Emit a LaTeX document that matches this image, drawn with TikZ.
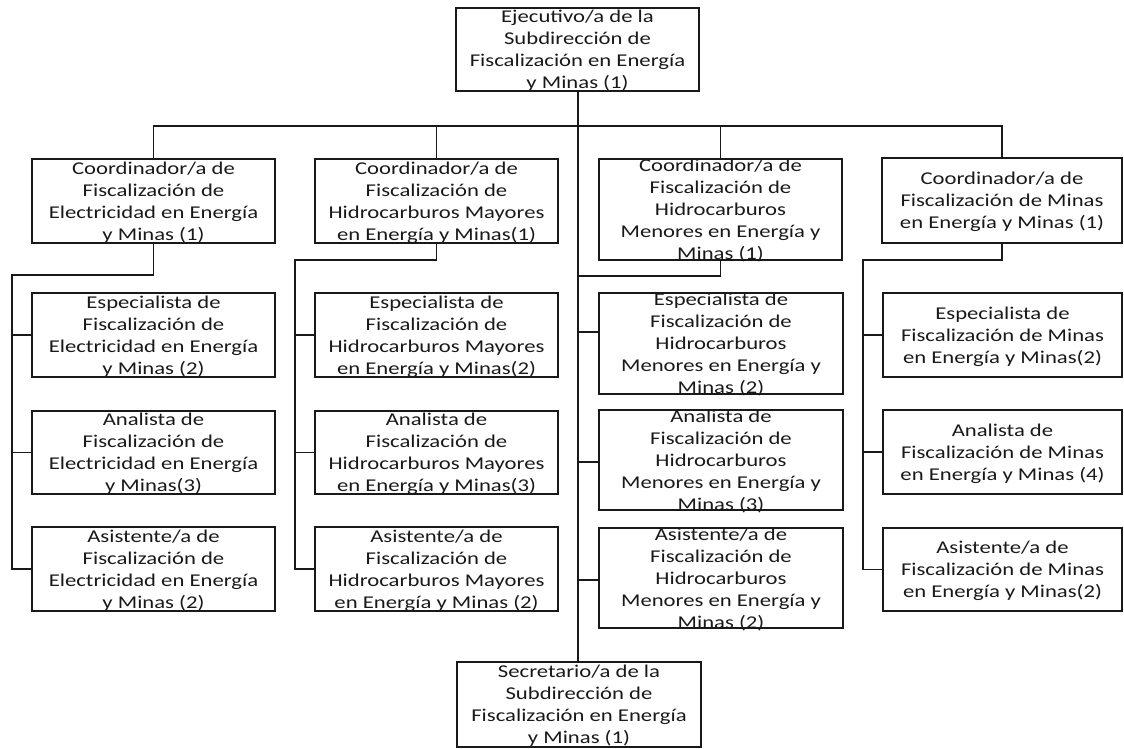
\documentclass[tikz,border=0pt]{standalone}
\usepackage{fontspec}
\newfontfamily\calib[FakeStretch=1.26]{Carlito}
\newcommand\boxfont{\calib\fontsize{18}{22}\selectfont}
\begin{document}
\begin{tikzpicture}[x=1pt,y=-1pt,
  boxst/.style={draw=black!90, line width=1.4pt, rectangle, inner sep=0pt, outer sep=0pt},
  txtst/.style={align=center, inner sep=0pt, font=\boxfont, text=black!90},
  conn/.style={draw=black!90, line width=1.4pt, line cap=rect}]
\useasboundingbox (0,0) rectangle (1124,749);
\newcommand\orgbox[6]{%
  \node[boxst, minimum width={#4-#2}, minimum height={#5-#3}] (#1) at ({(#2+#4)/2},{(#3+#5)/2}) {};
  \node[txtst] (#1t) at ([yshift=-1.6pt]#1.center) {#6};
}
% top and bottom
\orgbox{top}{456}{8}{699}{91}{\strut Ejecutivo/a de la\\Subdirección de\\Fiscalización en Energía\\y Minas (1)\strut}
\orgbox{sec}{457}{662}{701}{747}{\strut Secretario/a de la\\Subdirección de\\Fiscalización en Energía\\y Minas (1)\strut}
% coordinators
\orgbox{c1}{32}{159}{275}{243}{\strut Coordinador/a de\\Fiscalización de\\Electricidad en Energía\\y Minas (1)\strut}
\orgbox{c2}{315}{159}{558}{243}{\strut Coordinador/a de\\Fiscalización de\\Hidrocarburos Mayores\\en Energía y Minas(1)\strut}
\orgbox{c3}{599}{159}{842}{260}{\strut Coordinador/a de\\Fiscalización de\\Hidrocarburos\\Menores en Energía y\\Minas (1)\strut}
\orgbox{c4}{882}{158}{1122}{243}{\strut Coordinador/a de\\Fiscalización de Minas\\en Energía y Minas (1)\strut}
% column 1
\orgbox{e1}{32}{293}{275}{377}{\strut Especialista de\\Fiscalización de\\Electricidad en Energía\\y Minas (2)\strut}
\orgbox{a1}{32}{411}{275}{494}{\strut Analista de\\Fiscalización de\\Electricidad en Energía\\y Minas(3)\strut}
\orgbox{s1}{32}{527}{275}{611}{\strut Asistente/a de\\Fiscalización de\\Electricidad en Energía\\y Minas (2)\strut}
% column 2
\orgbox{e2}{315}{293}{558}{377}{\strut Especialista de\\Fiscalización de\\Hidrocarburos Mayores\\en Energía y Minas(2)\strut}
\orgbox{a2}{315}{411}{558}{494}{\strut Analista de\\Fiscalización de\\Hidrocarburos Mayores\\en Energía y Minas(3)\strut}
\orgbox{s2}{315}{527}{558}{611}{\strut Asistente/a de\\Fiscalización de\\Hidrocarburos Mayores\\en Energía y Minas (2)\strut}
% column 3
\orgbox{e3}{599}{293}{843}{394}{\strut Especialista de\\Fiscalización de\\Hidrocarburos\\Menores en Energía y\\Minas (2)\strut}
\orgbox{a3}{599}{410}{843}{510}{\strut Analista de\\Fiscalización de\\Hidrocarburos\\Menores en Energía y\\Minas (3)\strut}
\orgbox{s3}{599}{528}{843}{628}{\strut Asistente/a de\\Fiscalización de\\Hidrocarburos\\Menores en Energía y\\Minas (2)\strut}
% column 4
\orgbox{e4}{883}{293}{1122}{377}{\strut Especialista de\\Fiscalización de Minas\\en Energía y Minas(2)\strut}
\orgbox{a4}{883}{410}{1122}{494}{\strut Analista de\\Fiscalización de Minas\\en Energía y Minas (4)\strut}
\orgbox{s4}{883}{528}{1122}{611}{\strut Asistente/a de\\Fiscalización de Minas\\en Energía y Minas(2)\strut}
% helper coordinates
\coordinate (hb) at (0,126);
\coordinate (tr) at (578,0);
\coordinate (l1) at (12,275);
\coordinate (l2) at (295,260);
\coordinate (l3) at (578,276);
\coordinate (l4) at (863,260);
% trunk
\draw[conn] (top.south -| tr) -- (sec.north -| tr);
\draw[conn] (c1.north) -- (c1.north |- hb) -- (c4.north |- hb) -- (c4.north);
\draw[conn] (c2.north) -- (c2.north |- hb);
\draw[conn] (c3.north) -- (c3.north |- hb);
% column 1
\draw[conn] (c1.south) |- (l1) -- (l1 |- s1.west) -- (s1.west);
\draw[conn] (e1.west) -- (e1.west -| l1);
\draw[conn] (a1.west) -- (a1.west -| l1);
% column 2
\draw[conn] (c2.south) |- (l2) -- (l2 |- s2.west) -- (s2.west);
\draw[conn] (e2.west) -- (e2.west -| l2);
\draw[conn] (a2.west) -- (a2.west -| l2);
% column 3
\draw[conn] (c3.south) |- (l3);
\draw[conn] ([yshift=11.5pt]e3.west) -- ([yshift=11.5pt]e3.west -| l3);
\draw[conn] ([yshift=-2pt]a3.west) -- ([yshift=-2pt]a3.west -| l3);
\draw[conn] ([yshift=-2pt]s3.west) -- ([yshift=-2pt]s3.west -| l3);
% column 4
\draw[conn] (c4.south) |- (l4) -- (l4 |- s4.west) -- (s4.west);
\draw[conn] (e4.west) -- (e4.west -| l4);
\draw[conn] (a4.west) -- (a4.west -| l4);
\end{tikzpicture}
\end{document}
